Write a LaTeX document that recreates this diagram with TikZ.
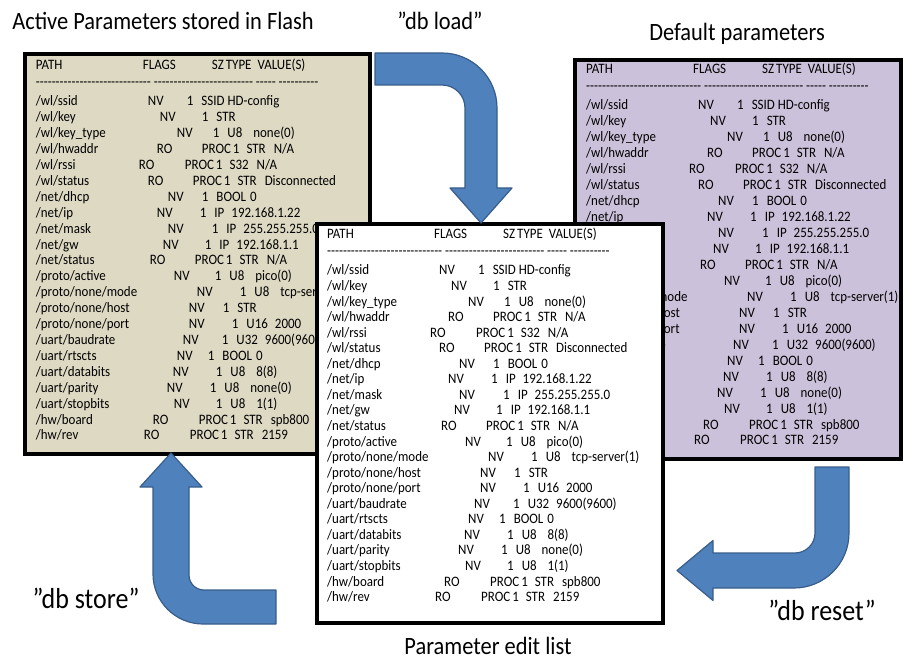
\documentclass[tikz,border=0pt]{standalone}
\usepackage{fontspec}
\setmainfont{Carlito}
\newfontfamily\narrowfont{Carlito}[FakeStretch=0.9]
\usetikzlibrary{calc}

\definecolor{flashbg}{RGB}{221,217,195}
\definecolor{defaultbg}{RGB}{204,193,218}
\definecolor{cmdblue}{RGB}{79,129,189}
\definecolor{cmdedge}{RGB}{56,93,138}

\newcommand{\gap}[1]{\hspace*{#1pt}}
\newcommand{\hyphens}[1]{\foreach \k in {1,...,#1}{-\kern0pt}}

% one parameter list: #1 = node prefix, #2 = row step; origin = baseline of PATH
\newcommand{\paramtable}[2]{%
\node[cell] (#1-h1) at (0,0) {PATH};
\node[cell] (#1-h2) at (107,0) {FLAGS};
\node[cell] (#1-h3) at (176,0) {SZ\gap{2}TYPE\gap{6}VALUE(S)};
\node[cell] (#1-rule) at (0,17) {\hyphens{29}\ \hyphens{25}\ \hyphens{5}\ \hyphens{10}};
\foreach \p/\a/\f/\b/\v [count=\i] in {
{/wl/ssid}/112/NV/151/{1\gap{8}SSID HD-config},
{/wl/key}/124/NV/166/{1\gap{8}STR},
{/wl/key\_type}/141/NV/177/{1\gap{8}U8\gap{11}none(0)},
{/wl/hwaddr}/121/RO/166/{PROC\gap{2}1\gap{7}STR\gap{8}N/A},
{/wl/rssi}/103/RO/149/{PROC\gap{2}1\gap{7}S32\gap{8}N/A},
{/wl/status}/112/RO/157/{PROC\gap{2}1\gap{7}STR\gap{8}Disconnected},
{/net/dhcp}/132/NV/166/{1\gap{8}BOOL\gap{4}0},
{/net/ip}/121/NV/164/{1\gap{8}IP\gap{7}192.168.1.22},
{/net/mask}/132/NV/176/{1\gap{8}IP\gap{7}255.255.255.0},
{/net/gw}/127/NV/169/{1\gap{8}IP\gap{7}192.168.1.1},
{/net/status}/114/RO/159/{PROC\gap{2}1\gap{7}STR\gap{8}N/A},
{/proto/active}/138/NV/179/{1\gap{8}U8\gap{11}pico(0)},
{/proto/none/mode}/161/NV/204/{1\gap{8}U8\gap{11}tcp-server(1)},
{/proto/none/host}/153/NV/187/{1\gap{8}STR},
{/proto/none/port}/153/NV/196/{1\gap{8}U16\gap{7}2000},
{/uart/baudrate}/147/NV/186/{1\gap{8}U32\gap{7}9600(9600)},
{/uart/rtscts}/141/NV/172/{1\gap{8}BOOL\gap{4}0},
{/uart/databits}/137/NV/180/{1\gap{8}U8\gap{11}8(8)},
{/uart/parity}/131/NV/174/{1\gap{8}U8\gap{11}none(0)},
{/uart/stopbits}/138/NV/180/{1\gap{8}U8\gap{11}1(1)},
{/hw/board}/117/RO/163/{PROC\gap{2}1\gap{7}STR\gap{8}spb800},
{/hw/rev}/108/RO/154/{PROC\gap{2}1\gap{7}STR\gap{8}2159}}{
\node[cell] (#1-p\i) at (0,{36+(\i-1)*#2}) {\p};
\node[cell] (#1-f\i) at (\a,{36+(\i-1)*#2}) {\f};
\node[cell] (#1-v\i) at (\b,{36+(\i-1)*#2}) {\v};
}}

\begin{document}
\begin{tikzpicture}[x=1pt,y=-1pt]
\tikzset{
table box/.style={rectangle,draw=black,line width=4pt,anchor=north west,inner sep=0pt},
cell/.style={anchor=base west,inner sep=0pt,font=\narrowfont\fontsize{14.4}{15}\selectfont},
caption/.style={anchor=base,inner sep=0pt,font=\narrowfont\fontsize{24.9}{28}\selectfont},
command/.style={anchor=base,inner sep=0pt,font=\narrowfont\fontsize{28.9}{32}\selectfont},
block arrow/.style={fill=cmdblue,draw=cmdedge,line width=1.2pt,line join=round}
}
\useasboundingbox (0,0) rectangle (907,660);

% active parameters in flash
\node[table box,fill=flashbg,minimum width=345pt,minimum height=400pt] (flash) at (23,52) {};
\begin{scope}[shift={(35.7,70)}]
\paramtable{flash}{15.9}
\end{scope}

% default parameters
\node[table box,fill=defaultbg,minimum width=326pt,minimum height=399pt] (defaults) at (573,58) {};
\begin{scope}[shift={(586,74)}]
\paramtable{defaults}{15.95}
\end{scope}

% edit list on top
\node[table box,fill=white,minimum width=346pt,minimum height=399pt] (edit) at (315,222) {};
\begin{scope}[shift={(327,239)}]
\paramtable{edit}{15.55}
\end{scope}

% "db load": flash -> edit list
\draw[block arrow] (375,53) -- (442,53) .. controls (472.4,53) and (497,77.6) .. (497,108)
  -- (497,188) -- (512,188) -- (481,223) -- (450,188) -- (465,188) -- (465,108)
  .. controls (465,95.3) and (454.7,85) .. (442,85) -- (375,85) -- cycle;
% "db store": edit list -> flash
\draw[block arrow] (171,453) -- (202,487) -- (189,487) -- (189,575)
  .. controls (189,583.3) and (195.7,590) .. (204,590) -- (276,590) -- (276,624) -- (203,624)
  .. controls (175.4,624) and (153,601.6) .. (153,574) -- (153,487) -- (140,487) -- cycle;
% "db reset": defaults -> edit list
\draw[block arrow] (815,467) -- (849,467) -- (849,533) .. controls (849,563.4) and (824.4,588) .. (794,588)
  -- (713,588) -- (713,600.5) -- (677,570.5) -- (713,540.5) -- (713,553) -- (795,553)
  .. controls (806,553) and (815,544) .. (815,533) -- cycle;

% captions
\node[caption] (flashcap) at (163,30) {Active Parameters stored in Flash};
\node[caption] (defaultcap) at (737,41) {Default parameters};
\node[caption] (editcap) at (488,654) {Parameter edit list};
\node[caption] (loadcap) at (440,30) {”db load”};
\node[command] (storecap) at (86,608) {”db store”};
\node[command] (resetcap) at (822,620) {”db reset”};
\end{tikzpicture}
\end{document}
